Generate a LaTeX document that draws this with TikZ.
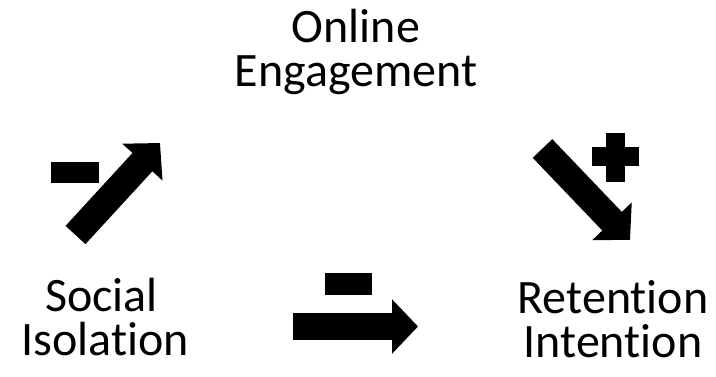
\documentclass[tikz,border=0pt]{standalone}
\usepackage{fontspec}
\setmainfont{Carlito}[Ligatures={NoCommon,NoContextual}]
\usetikzlibrary{arrows.meta}

\begin{document}
\begin{tikzpicture}[x=0.75pt, y=-0.75pt,
    concept/.style={align=center, inner sep=0pt, font=\fontsize{36pt}{33pt}\selectfont},
    blockarrow/.style={line width=20.25pt, -{Triangle[length=19.5pt, width=39.75pt]}},
    sign/.style={fill=black}]
    \useasboundingbox (0,0) rectangle (716,377);

    % Constructs
    \node[concept, anchor=base] (online) at (356,87) {Online\\Engagement};
    \node[concept, anchor=base] (social) at (105.5,355) {Social\hspace*{6pt}\\Isolation};
    \node[concept, anchor=base] (retention) at (613,357) {Retention\\Intention};

    % Arrow ends
    \coordinate (up tail) at (75.5,235);
    \coordinate (up tip) at (160,143);
    \coordinate (down tail) at (542.5,148.5);
    \coordinate (down tip) at (630,240);
    \coordinate (mid tail) at (293,326.5);
    \coordinate (mid tip) at (418,326.5);

    % Paths
    \draw[blockarrow] (up tail) -- (up tip);
    \draw[blockarrow] (down tail) -- (down tip);
    \draw[blockarrow] (mid tail) -- (mid tip);

    % Signs
    \fill[sign] (51,162) rectangle (99,183);
    \fill[sign] (325,273) rectangle (372,295);
    \fill[sign] (591.5,147.5) rectangle (638.5,166.5);
    \fill[sign] (605.5,133) rectangle (624.5,182);
\end{tikzpicture}
\end{document}
